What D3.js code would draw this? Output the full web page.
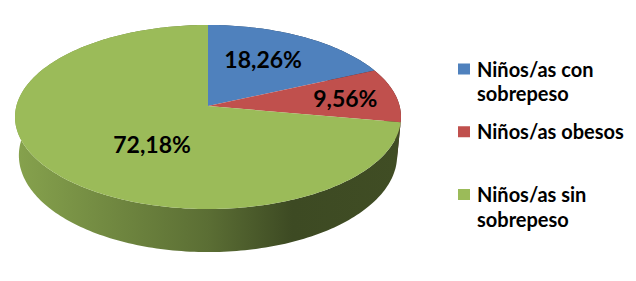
<!DOCTYPE html>
<html>
<head>
<meta charset="utf-8">
<script src="https://cdn.jsdelivr.net/npm/d3@7"></script>
<style>
  body { margin: 0; background: #fff; }
  text { font-family: Lato, Calibri, sans-serif; font-weight: bold; fill: #000; }
</style>
</head>
<body>
<svg width="636" height="281"></svg>
<script>
const categories = ['Niños/as con sobrepeso', 'Niños/as obesos', 'Niños/as sin sobrepeso'];
const values = [18.26, 9.56, 72.18];
const valueLabels = ['18,26%', '9,56%', '72,18%'];
const legendLines = [['Niños/as con', 'sobrepeso'], ['Niños/as obesos'], ['Niños/as sin', 'sobrepeso']];
const colors = ['#4f81bd', '#c0504d', '#9bbb59'];

let svg = d3.select('svg');

// fake 3d: disk seen from above with a bit of perspective
let cx = 208, cy = 106,
  a = 191.6, b = 90.7, k = 0.1196,
  thick = 37.9, shrink = 0.02;

function proj(theta, r, h) {
  let u = r * Math.sin(theta), v = -r * Math.cos(theta);
  let den = 1 - k * v;
  return [cx + a * u / den * (1 - shrink * h), cy + b * v / den + h * thick / den];
}

let pie = d3.pie().sort(null).value(d => d);
let arcs = pie(values);

function arcPoints(a0, a1, r, h) {
  let n = Math.max(2, Math.ceil((a1 - a0) / 0.02));
  return d3.range(n + 1).map(i => proj(a0 + (a1 - a0) * i / n, r, h));
}

let line = d3.line();

// gradients for the side wall
let defs = svg.append('defs');
colors.forEach((c, i) => {
  let g = defs.append('linearGradient')
    .attr('id', 'side' + i)
    .attr('gradientUnits', 'userSpaceOnUse')
    .attr('x1', cx - a).attr('x2', cx + a)
    .attr('y1', 0).attr('y2', 0);
  [[0, 0.4], [0.5, 1.5], [0.72, 2.6], [1, 2.5]].forEach(s => {
    g.append('stop').attr('offset', s[0]).attr('stop-color', d3.color(c).darker(s[1]).formatHex());
  });
});

// side walls
svg.append('g')
  .selectAll('path')
  .data(arcs)
  .enter()
  .append('path')
  .attr('d', d => {
    let top = arcPoints(d.startAngle, d.endAngle, 1, 0);
    let bot = arcPoints(d.startAngle, d.endAngle, 1, 1).reverse();
    return line(top.concat(bot)) + 'Z';
  })
  .attr('fill', (d, i) => 'url(#side' + i + ')');

// top faces
svg.append('g')
  .selectAll('path')
  .data(arcs)
  .enter()
  .append('path')
  .attr('d', d => line([proj(0, 0, 0)].concat(arcPoints(d.startAngle, d.endAngle, 1, 0))) + 'Z')
  .attr('fill', (d, i) => colors[i]);

// data labels
let labelR = [0.56, 0.73, 0.37];
let labelDy = [2, 9, 25];
svg.append('g')
  .selectAll('text')
  .data(arcs)
  .enter()
  .append('text')
  .attr('x', d => proj((d.startAngle + d.endAngle) / 2, labelR[d.index], 0)[0])
  .attr('y', d => proj((d.startAngle + d.endAngle) / 2, labelR[d.index], 0)[1] + labelDy[d.index])
  .attr('text-anchor', 'middle')
  .style('font-size', '23px')
  .text((d, i) => valueLabels[i]);

// legend
let legendY = d3.scalePoint().domain(categories).range([69, 194.5]);
let leg = svg.append('g')
  .selectAll('g')
  .data(categories)
  .enter()
  .append('g')
  .attr('transform', d => 'translate(458,' + legendY(d) + ')');

leg.append('rect')
  .attr('x', 0).attr('y', -5.5)
  .attr('width', 12).attr('height', 11)
  .attr('fill', (d, i) => colors[i]);

leg.append('text')
  .attr('x', 19)
  .attr('y', 7.5)
  .style('font-size', '20px')
  .selectAll('tspan')
  .data((d, i) => legendLines[i])
  .enter()
  .append('tspan')
  .attr('x', 19)
  .attr('dy', (d, j) => j ? 24.5 : 0)
  .text(d => d);
</script>
</body>
</html>
